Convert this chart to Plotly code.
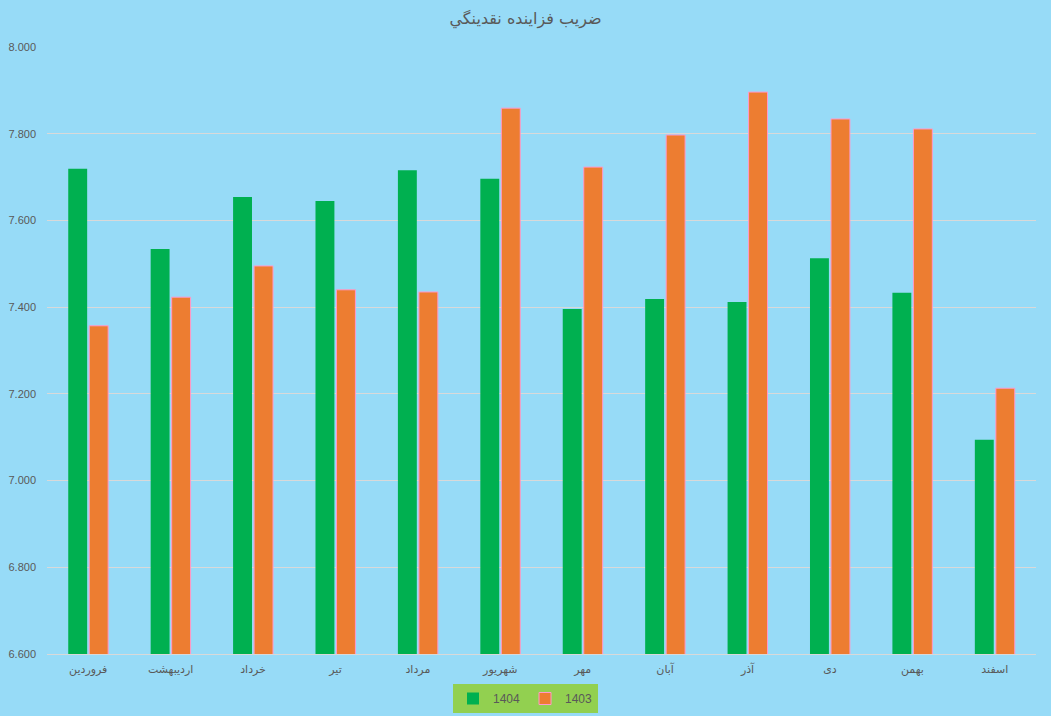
import plotly.graph_objects as go

months = ["فروردین", "اردیبهشت", "خرداد", "تیر", "مرداد", "شهریور",
          "مهر", "آبان", "آذر", "دی", "بهمن", "اسفند"]
values_1404 = [7.719, 7.534, 7.654, 7.645, 7.716, 7.696,
               7.396, 7.419, 7.412, 7.513, 7.433, 7.094]
values_1403 = [7.357, 7.423, 7.495, 7.440, 7.435, 7.859,
               7.723, 7.797, 7.896, 7.834, 7.811, 7.213]

font_family = "Liberation Sans, DejaVu Sans, Arial, sans-serif"

fig = go.Figure()
fig.add_trace(go.Bar(
    name="1404", x=months, y=values_1404,
    marker=dict(color="#00B050", line=dict(width=0)),
))
fig.add_trace(go.Bar(
    name="1403", x=months, y=values_1403,
    marker=dict(color="#ED7D31", line=dict(color="#FF99CC", width=1)),
))

fig.update_layout(
    width=1051, height=716,
    paper_bgcolor="#97DBF7", plot_bgcolor="#97DBF7",
    margin=dict(l=47, r=15, t=47, b=62, autoexpand=False),
    barmode="group", bargap=0.49, bargroupgap=0.1,
    title=dict(text="ضریب فزاینده نقدینگي", x=0.5, xanchor="center",
               y=0.975, yanchor="middle",
               font=dict(family="DejaVu Sans, sans-serif", size=16, color="#595959")),
    font=dict(family=font_family, size=11, color="#595959"),
    showlegend=True,
    legend=dict(orientation="h", xref="container", yref="container",
                x=0.5, xanchor="center", y=1 - 684 / 716, yanchor="top",
                bgcolor="#92D050", font=dict(size=12, color="#595959"),
                itemwidth=30, traceorder="normal"),
    xaxis=dict(showgrid=False, showline=True, linecolor="#D9D9D9", linewidth=1,
               ticks="", automargin=False, ticklabelstandoff=5,
               tickfont=dict(size=11, color="#595959")),
    yaxis=dict(range=[6.6, 8.0], dtick=0.2, tick0=6.6, tickformat=".3f",
               showgrid=True, gridcolor="#D9D9D9", gridwidth=1, zeroline=False,
               showline=False, ticks="", automargin=False, ticklabelstandoff=10,
               tickfont=dict(size=11, color="#595959")),
)

fig.write_html("out.html")
